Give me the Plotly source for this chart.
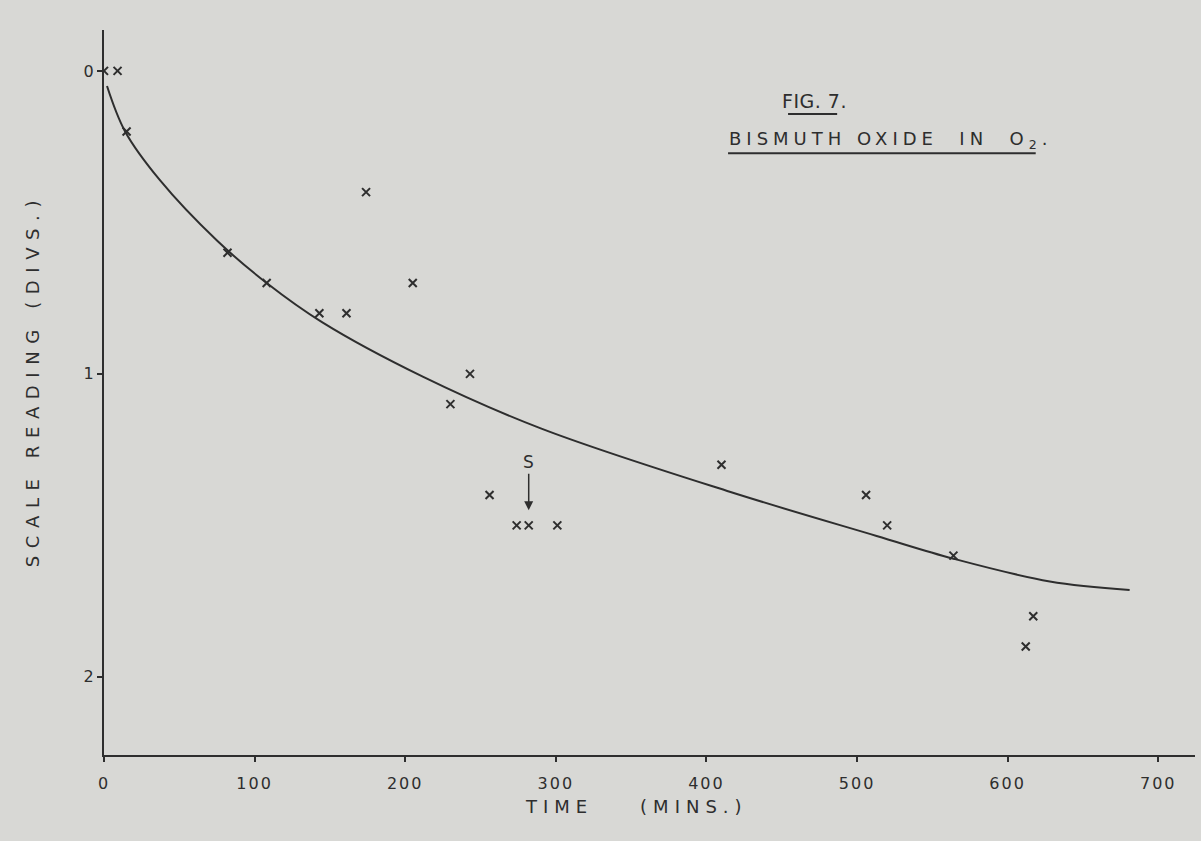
import plotly.graph_objects as go

# Observed readings (time in minutes, scale reading in divisions)
time_obs = [0, 9, 15, 82, 108, 143, 161, 174, 205, 230, 243, 256, 274, 282, 301, 410, 506, 520, 564, 612, 617]
reading_obs = [0.0, 0.0, 0.2, 0.6, 0.7, 0.8, 0.8, 0.4, 0.7, 1.1, 1.0, 1.4, 1.5, 1.5, 1.5, 1.3, 1.4, 1.5, 1.6, 1.9, 1.8]

# Smooth curve drawn through the readings
time_fit = [2, 14, 37, 75, 108, 145, 212, 290, 416, 513, 564, 628, 681]
reading_fit = [0.05, 0.2, 0.36, 0.56, 0.70, 0.83, 1.01, 1.18, 1.39, 1.535, 1.61, 1.685, 1.713]

x_ticks = [0, 100, 200, 300, 400, 500, 600, 700]
y_ticks = [0, 1, 2]

ink = "#2e2e2e"
paper = "#d8d8d5"
font_family = "DejaVu Sans"


def spaced(text, px):
    return f'<span style="letter-spacing:{px}px">{text}</span>'


fig = go.Figure()

fig.add_trace(go.Scatter(
    x=time_fit, y=reading_fit, mode="lines",
    line=dict(color=ink, width=2, shape="spline", smoothing=1.0),
    hoverinfo="skip", showlegend=False,
))

fig.add_trace(go.Scatter(
    x=time_obs, y=reading_obs, mode="markers",
    marker=dict(symbol="x-thin", size=8, line=dict(color=ink, width=2)),
    showlegend=False,
))

# Marker "S" with a downward arrow
fig.add_annotation(
    x=282, y=1.45, xref="x", yref="y", text="S", showarrow=True,
    arrowhead=2, arrowsize=1.2, arrowwidth=1.5, arrowcolor=ink,
    ax=0, ay=-48, font=dict(family=font_family, size=17, color=ink),
)

# Figure heading
fig.add_annotation(
    x=0.6515, y=0.902, xref="paper", yref="paper", text=spaced("FIG. 7.", 0.5),
    showarrow=False, xanchor="center", yanchor="middle",
    font=dict(family=font_family, size=19, color=ink),
)
fig.add_annotation(
    x=0.571, y=0.848, xref="paper", yref="paper",
    text=spaced("BISMUTH OXIDE  IN  O<sub>2</sub>.", 5),
    showarrow=False, xanchor="left", yanchor="middle",
    font=dict(family=font_family, size=18, color=ink),
)
fig.add_shape(type="line", xref="paper", yref="paper",
              x0=0.627, x1=0.672, y0=0.884, y1=0.884, line=dict(color=ink, width=2))
fig.add_shape(type="line", xref="paper", yref="paper",
              x0=0.572, x1=0.854, y0=0.830, y1=0.830, line=dict(color=ink, width=2))

# Axis titles, lettered by hand along the axes
fig.add_annotation(
    x=-0.066, y=0.517, xref="paper", yref="paper", textangle=-90,
    text=spaced("SCALE READING (DIVS.)", 7.6),
    showarrow=False, xanchor="center", yanchor="middle",
    font=dict(family=font_family, size=18, color=ink),
)
fig.add_annotation(
    x=0.488, y=-0.071, xref="paper", yref="paper",
    text=spaced("TIME    (MINS.)", 6),
    showarrow=False, xanchor="center", yanchor="middle",
    font=dict(family=font_family, size=18, color=ink),
)

fig.update_layout(
    width=1201, height=841,
    margin=dict(l=104, r=6, t=30, b=86),
    paper_bgcolor=paper, plot_bgcolor=paper,
    font=dict(family=font_family, color=ink),
    xaxis=dict(
        range=[0, 724.4], tickvals=x_ticks, ticktext=[spaced(str(v), 2) for v in x_ticks],
        showgrid=False, zeroline=False, showline=True, linecolor=ink, linewidth=2,
        ticks="outside", ticklen=5, tickwidth=1.5, tickcolor=ink,
        ticklabelstandoff=8,
        tickfont=dict(family=font_family, size=16, color=ink),
    ),
    yaxis=dict(
        range=[2.258, -0.135], tickvals=y_ticks, ticktext=[str(v) for v in y_ticks],
        showgrid=False, zeroline=False, showline=True, linecolor=ink, linewidth=2,
        ticks="outside", ticklen=5, tickwidth=1.5, tickcolor=ink,
        tickfont=dict(family=font_family, size=16, color=ink),
    ),
)

fig.write_html("out.html")
